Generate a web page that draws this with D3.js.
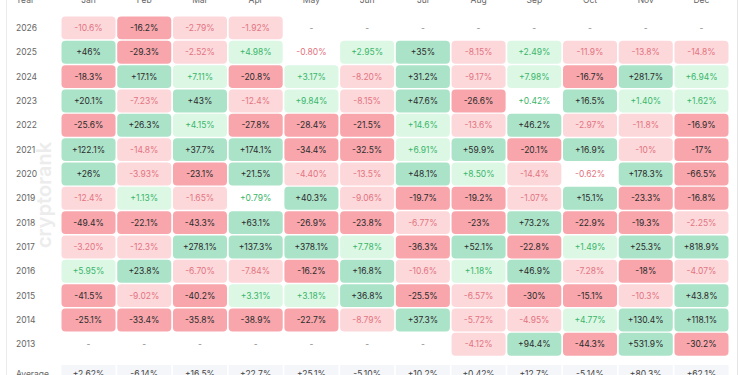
<!DOCTYPE html>
<html>
<head>
<meta charset="utf-8">
<script src="https://cdn.jsdelivr.net/npm/d3@7"></script>
<style>
  html, body { margin: 0; padding: 0; background: #fff; }
  svg { display: block; font-family: Inter, "Noto Sans", sans-serif; }
</style>
</head>
<body>
<svg id="heatmap" width="750" height="375"></svg>
<script>
// ---- data ----
var months = ["Jan", "Feb", "Mar", "Apr", "May", "Jun", "Jul", "Aug", "Sep", "Oct", "Nov", "Dec"];
var years = ["2026", "2025", "2024", "2023", "2022", "2021", "2020", "2019", "2018", "2017", "2016", "2015", "2014", "2013"];

var r2026 = [-10.6, -16.2, -2.79, -1.92, null, null, null, null, null, null, null, null];
var r2025 = [46, -29.3, -2.52, 4.98, -0.80, 2.95, 35, -8.15, 2.49, -11.9, -13.8, -14.8];
var r2024 = [-18.3, 17.1, 7.11, -20.8, 3.17, -8.20, 31.2, -9.17, 7.98, -16.7, 281.7, 6.94];
var r2023 = [20.1, -7.23, 43, -12.4, 9.84, -8.15, 47.6, -26.6, 0.42, 16.5, 1.40, 1.62];
var r2022 = [-25.6, 26.3, 4.15, -27.8, -28.4, -21.5, 14.6, -13.6, 46.2, -2.97, -11.8, -16.9];
var r2021 = [122.1, -14.8, 37.7, 174.1, -34.4, -32.5, 6.91, 59.9, -20.1, 16.9, -10, -17];
var r2020 = [26, -3.93, -23.1, 21.5, -4.40, -13.5, 48.1, 8.50, -14.4, -0.62, 178.3, -66.5];
var r2019 = [-12.4, 1.13, -1.65, 0.79, 40.3, -9.06, -19.7, -19.2, -1.07, 15.1, -23.3, -16.8];
var r2018 = [-49.4, -22.1, -43.3, 63.1, -26.9, -23.8, -6.77, -23, 73.2, -22.9, -19.3, -2.25];
var r2017 = [-3.20, -12.3, 278.1, 137.3, 378.1, 7.78, -36.3, 52.1, -22.8, 1.49, 25.3, 818.9];
var r2016 = [5.95, 23.8, -6.70, -7.84, -16.2, 16.8, -10.6, 1.18, 46.9, -7.28, -18, -4.07];
var r2015 = [-41.5, -9.02, -40.2, 3.31, 3.18, 36.8, -25.5, -6.57, -30, -15.1, -10.3, 43.8];
var r2014 = [-25.1, -33.4, -35.8, -38.9, -22.7, -8.79, 37.3, -5.72, -4.95, 4.77, 130.4, 118.1];
var r2013 = [null, null, null, null, null, null, null, -4.12, 94.4, -44.3, 531.9, -30.2];

var averages = [2.62, -6.14, 16.5, 22.7, 25.1, -5.10, 10.2, 0.42, 12.7, -5.14, 80.3, 62.1];

var rows = [r2026, r2025, r2024, r2023, r2022, r2021, r2020, r2019, r2018, r2017, r2016, r2015, r2014, r2013];

// ---- helpers ----
function fmt(v) {
    var a = Math.abs(v);
    var s = a < 10 ? a.toFixed(2) : a.toFixed(1).replace(/\.0$/, "");
    return (v >= 0 ? "+" : "-") + s + "%";
}
function cellFill(v) {
    if (v == null) return "none";
    var a = Math.abs(v);
    if (a < 1) return "#ffffff";
    if (v > 0) return a >= 15 ? "#abe3c9" : "#dcf8e5";
    return a >= 15 ? "#f8a6ac" : "#fdd8db";
}
function textFill(v) {
    if (v == null) return "#8a8a8a";
    var a = Math.abs(v);
    if (a >= 15) return "#2b2b2b";
    return v > 0 ? "#3bb56a" : "#e27480";
}

// ---- build ----
var svg = d3.select("svg#heatmap");

// card edges
svg.append("line").attr("x1", 6.5).attr("x2", 6.5).attr("y1", 0).attr("y2", 375)
    .attr("stroke", "#ececec");
svg.append("line").attr("x1", 737.5).attr("x2", 737.5).attr("y1", 0).attr("y2", 375)
    .attr("stroke", "#e6e6e6");

var xscale = d3.scaleBand()
    .domain(months)
    .range([61.5, 728.5])
    .paddingInner(0.03);

var yscale = d3.scaleBand()
    .domain(years)
    .range([16.5, 16.5 + 24.23 * years.length])
    .paddingInner(0.06);

// watermark
svg.append("text")
    .attr("transform", "translate(51,195) rotate(-90)")
    .attr("text-anchor", "middle")
    .attr("font-size", 20)
    .attr("font-weight", 600)
    .attr("fill", "#ececec")
    .text("cryptorank");

// header
svg.append("text")
    .attr("x", 16).attr("y", 3)
    .attr("font-size", 8.5).attr("fill", "#666")
    .text("Year");
svg.selectAll(".month_label")
    .data(months)
    .enter().append("text")
    .attr("class", "month_label")
    .attr("x", d => xscale(d) + xscale.bandwidth() / 2)
    .attr("y", 3)
    .attr("text-anchor", "middle")
    .attr("font-size", 8.5).attr("fill", "#666")
    .text(d => d);

// year labels
svg.selectAll(".year_label")
    .data(years)
    .enter().append("text")
    .attr("class", "year_label")
    .attr("x", 16)
    .attr("y", d => yscale(d) + yscale.bandwidth() / 2)
    .attr("dy", "0.35em")
    .attr("font-size", 8.5).attr("fill", "#666")
    .text(d => d);

// cells
var cells = [];
rows.forEach(function(row, i) {
    row.forEach(function(v, j) {
        cells.push({ year: years[i], month: months[j], value: v });
    });
});

var g = svg.append("g").attr("class", "cells");
g.selectAll("rect")
    .data(cells.filter(d => d.value != null))
    .enter().append("rect")
    .attr("x", d => xscale(d.month))
    .attr("y", d => yscale(d.year))
    .attr("width", xscale.bandwidth())
    .attr("height", yscale.bandwidth())
    .attr("rx", 4)
    .attr("fill", d => cellFill(d.value));

g.selectAll("text")
    .data(cells)
    .enter().append("text")
    .attr("x", d => xscale(d.month) + xscale.bandwidth() / 2)
    .attr("y", d => yscale(d.year) + yscale.bandwidth() / 2)
    .attr("dy", "0.35em")
    .attr("text-anchor", "middle")
    .attr("font-size", 8.5)
    .attr("fill", d => textFill(d.value))
    .text(d => d.value == null ? "-" : fmt(d.value));

// average row
var avgTop = 365;
svg.append("text")
    .attr("x", 16).attr("y", avgTop + 9)
    .attr("dy", "0.35em")
    .attr("font-size", 8.5).attr("fill", "#666")
    .text("Average");

var ga = svg.append("g").attr("class", "averages");
ga.selectAll("rect")
    .data(averages)
    .enter().append("rect")
    .attr("x", (d, i) => xscale(months[i]))
    .attr("y", avgTop)
    .attr("width", xscale.bandwidth())
    .attr("height", 23)
    .attr("fill", "#f4f6fa");
ga.selectAll("text")
    .data(averages)
    .enter().append("text")
    .attr("x", (d, i) => xscale(months[i]) + xscale.bandwidth() / 2)
    .attr("y", avgTop + 9)
    .attr("dy", "0.35em")
    .attr("text-anchor", "middle")
    .attr("font-size", 8.5).attr("fill", "#444")
    .text(d => fmt(d));
</script>
</body>
</html>
